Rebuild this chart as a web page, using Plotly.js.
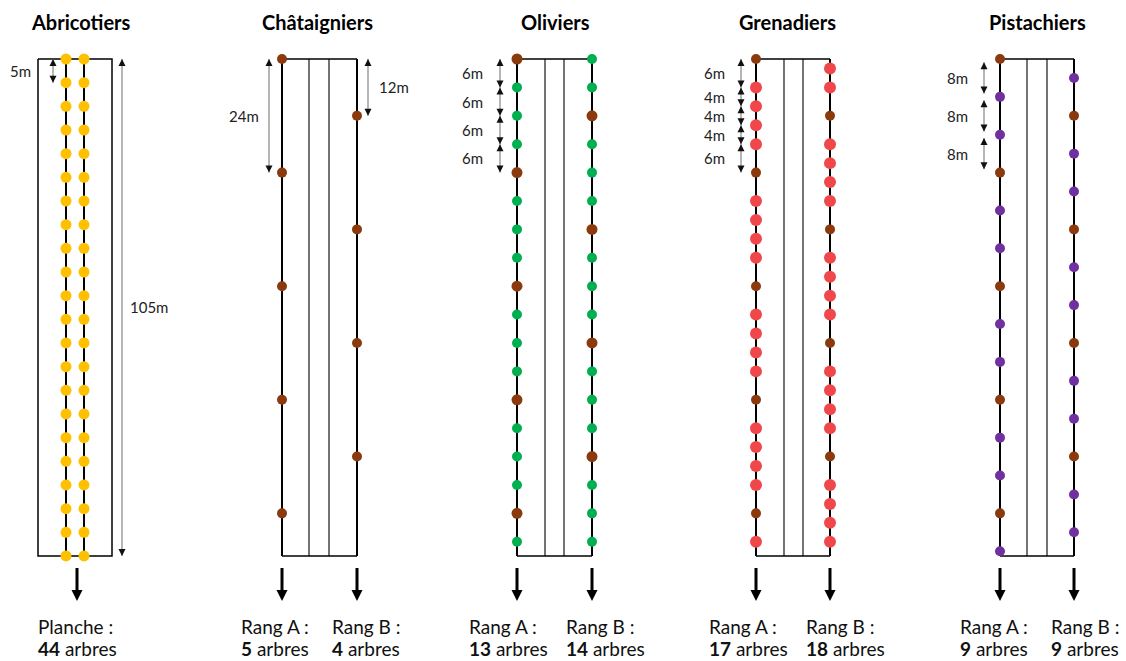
<!DOCTYPE html>
<html>
<head>
<meta charset="utf-8">
<script src="https://cdn.plot.ly/plotly-3.0.1.min.js"></script>
<style>html,body{margin:0;padding:0;background:#fff;}#chart{width:1126px;height:661px;}</style>
</head>
<body>
<div id="chart"></div>
<script>
// ---------- DATA (metres along the row) ----------
const species = ['Abricotiers', 'Châtaigniers', 'Oliviers', 'Grenadiers', 'Pistachiers'];
const rowLength = 105;

const abricotRow1 = [0,5,10,15,20,25,30,35,40,45,50,55,60,65,70,75,80,85,90,95,100,105];
const abricotRow2 = [0,5,10,15,20,25,30,35,40,45,50,55,60,65,70,75,80,85,90,95,100,105];

const chataignierA = [0,24,48,72,96];
const chataignierB = [12,36,60,84];

const olivierA = [6,12,18,30,36,42,54,60,66,78,84,90,102];
const olivierA_brown = [0,24,48,72,96];
const olivierB = [0,6,18,24,30,42,48,54,66,72,78,90,96,102];
const olivierB_brown = [12,36,60,84];

const grenadierA = [6,10,14,18,30,34,38,42,54,58,62,66,78,82,86,90,102];
const grenadierA_brown = [0,24,48,72,96];
const grenadierB = [2,6,18,22,26,30,42,46,50,54,66,70,74,78,90,94,98,102];
const grenadierB_brown = [12,36,60,84];

const pistachierA = [8,16,32,40,56,64,80,88,104];
const pistachierA_brown = [0,24,48,72,96];
const pistachierB = [4,20,28,44,52,68,76,92,100];
const pistachierB_brown = [12,36,60,84];

// dimension segments [from, to] in metres, with label text
const dimAbricotLeft = [[0,5,'5m']];
const dimAbricotRight = [[0,105,'105m']];
const dimChataignierLeft = [[0,24,'24m']];
const dimChataignierRight = [[0,12,'12m']];
const dimOlivier = [[0,6,'6m'],[6,12,'6m'],[12,18,'6m'],[18,24,'6m']];
const dimGrenadier = [[0,6,'6m'],[6,10,'4m'],[10,14,'4m'],[14,18,'4m'],[18,24,'6m']];
const dimPistachier = [[0,8,'8m'],[8,16,'8m'],[16,24,'8m']];

// bottom labels
const bottomLine1 = ['Planche :', 'Rang A :', 'Rang B :', 'Rang A :', 'Rang B :', 'Rang A :', 'Rang B :', 'Rang A :', 'Rang B :'];
const bottomCounts = [44, 5, 4, 13, 14, 17, 18, 9, 9];

// ---------- STYLE / LAYOUT CONSTANTS ----------
const C = {yellow:'#FFC000', brown:'#8B3A0E', green:'#00B050', red:'#F0474B', purple:'#7030A0'};
const W = 1126, H = 661;
const TOP = 59, K = 4.733;             // px of row start, px per metre
const FONT = 'Lato, "Noto Sans", sans-serif';
const pyPaper = p => 1 - p / H;         // pixel -> paper y
const pxM = p => (p - TOP) / K;         // pixel -> metres

const cols = {
  abr: {box:[38,112], rows:[66,84], arrow:77, title:80},
  cha: {rows:[282,357], inner:[309,329], title:317},
  oli: {rows:[517,592], inner:[545,564], title:555},
  gre: {rows:[756,830], inner:[784,803], title:787},
  pis: {rows:[1000,1074], inner:[1027,1047], title:1037}
};

const traces = [];
const annotations = [];

function line(xs, ys, color, width) {
  traces.push({type:'scatter', mode:'lines', x:xs, y:ys, line:{color:color, width:width}, hoverinfo:'skip', showlegend:false});
}
function dots(x, ys, color, size) {
  traces.push({type:'scatter', mode:'markers', x:ys.map(() => x), y:ys,
    marker:{color:color, size:size || 11, line:{width:0}}, hoverinfo:'skip', showlegend:false});
}
function dim(x, segs, side, gap, inset) {
  inset = inset || 0;
  segs.forEach(s => {
    const a = s[0] + inset, b = s[1] - inset;
    line([x, x], [a, b], '#7a7a7a', 1.1);
    traces.push({type:'scatter', mode:'markers', x:[x, x], y:[a, b],
      marker:{symbol:['arrow-up','arrow-down'], size:7, color:'#111', line:{width:0}}, hoverinfo:'skip', showlegend:false});
    annotations.push({x: side === 'left' ? x - gap : x + gap, y:(s[0] + s[1]) / 2, xref:'x', yref:'y',
      text:s[2], showarrow:false, xanchor: side === 'left' ? 'right' : 'left', yanchor:'middle',
      font:{family:FONT, size:15, color:'#222'}});
  });
}
function bottomArrow(x) {
  line([x, x], [pxM(568), pxM(592)], '#000', 3);
  traces.push({type:'scatter', mode:'markers', x:[x], y:[pxM(601)],
    marker:{symbol:'arrow-down', size:11, color:'#000', line:{width:0}}, hoverinfo:'skip', showlegend:false});
}
function frame(c) {
  line([c.rows[0], c.rows[1]], [0, 0], '#000', 1.5);
  line([c.rows[0], c.rows[1]], [rowLength, rowLength], '#000', 1.5);
  c.inner.forEach(x => line([x, x], [0, rowLength], '#000', 1.1));
  c.rows.forEach(x => line([x, x], [0, rowLength], '#000', 2));
}

// Abricotiers
line([cols.abr.box[0], cols.abr.box[1], cols.abr.box[1], cols.abr.box[0], cols.abr.box[0]],
     [0, 0, rowLength, rowLength, 0], '#000', 1.5);
cols.abr.rows.forEach(x => line([x, x], [0, rowLength], '#000', 2));
dots(cols.abr.rows[0], abricotRow1, C.yellow, 11);
dots(cols.abr.rows[1], abricotRow2, C.yellow, 11);
dim(53, dimAbricotLeft, 'left', 20);
dim(122, dimAbricotRight, 'right', 6);

// Châtaigniers
frame(cols.cha);
dots(cols.cha.rows[0], chataignierA, C.brown, 10);
dots(cols.cha.rows[1], chataignierB, C.brown, 10);
dim(269, dimChataignierLeft, 'left', 8);
dim(368, dimChataignierRight, 'right', 9);

// Oliviers
frame(cols.oli);
dots(cols.oli.rows[0], olivierA_brown, C.brown, 11);
dots(cols.oli.rows[0], olivierA, C.green, 10);
dots(cols.oli.rows[1], olivierB_brown, C.brown, 11);
dots(cols.oli.rows[1], olivierB, C.green, 10);
dim(500, dimOlivier, 'left', 15);

// Grenadiers
frame(cols.gre);
dots(cols.gre.rows[0], grenadierA_brown, C.brown, 10);
dots(cols.gre.rows[0], grenadierA, C.red, 12);
dots(cols.gre.rows[1], grenadierB_brown, C.brown, 10);
dots(cols.gre.rows[1], grenadierB, C.red, 12);
dim(741, dimGrenadier, 'left', 14);

// Pistachiers
frame(cols.pis);
dots(cols.pis.rows[0], pistachierA_brown, C.brown, 10);
dots(cols.pis.rows[0], pistachierA, C.purple, 10);
dots(cols.pis.rows[1], pistachierB_brown, C.brown, 10);
dots(cols.pis.rows[1], pistachierB, C.purple, 10);
dim(984, dimPistachier, 'left', 14, 0.7);

// Titles
const titleX = [cols.abr.title, cols.cha.title, cols.oli.title, cols.gre.title, cols.pis.title];
species.forEach((s, i) => annotations.push({x:titleX[i], y:pyPaper(22), xref:'x', yref:'paper', text:'<b>' + s + '</b>',
  showarrow:false, xanchor:'center', yanchor:'middle', font:{family:FONT, size:20, color:'#000'}}));

// Bottom arrows and labels
const arrowXs = [cols.abr.arrow, cols.cha.rows[0], cols.cha.rows[1], cols.oli.rows[0], cols.oli.rows[1],
                 cols.gre.rows[0], cols.gre.rows[1], cols.pis.rows[0], cols.pis.rows[1]];
const labelLeft = [36, 239, 330, 467, 564, 707, 804, 958, 1049];
arrowXs.forEach(x => bottomArrow(x));
bottomLine1.forEach((t, i) => {
  annotations.push({x:labelLeft[i], y:pyPaper(626), xref:'x', yref:'paper', text:t, showarrow:false,
    xanchor:'left', yanchor:'middle', font:{family:FONT, size:19, color:'#111'}});
  annotations.push({x:labelLeft[i], y:pyPaper(648), xref:'x', yref:'paper', text:'<b>' + bottomCounts[i] + '</b> arbres',
    showarrow:false, xanchor:'left', yanchor:'middle', font:{family:FONT, size:19, color:'#111'}});
});

const layout = {
  width:W, height:H, margin:{l:0, r:0, t:0, b:0},
  paper_bgcolor:'#fff', plot_bgcolor:'#fff',
  xaxis:{range:[0, W], visible:false, fixedrange:true},
  yaxis:{range:[(H - TOP) / K, -TOP / K], visible:false, fixedrange:true},
  showlegend:false, hovermode:false,
  annotations:annotations
};
Plotly.newPlot('chart', traces, layout, {staticPlot:true, displayModeBar:false});
</script>
</body>
</html>
